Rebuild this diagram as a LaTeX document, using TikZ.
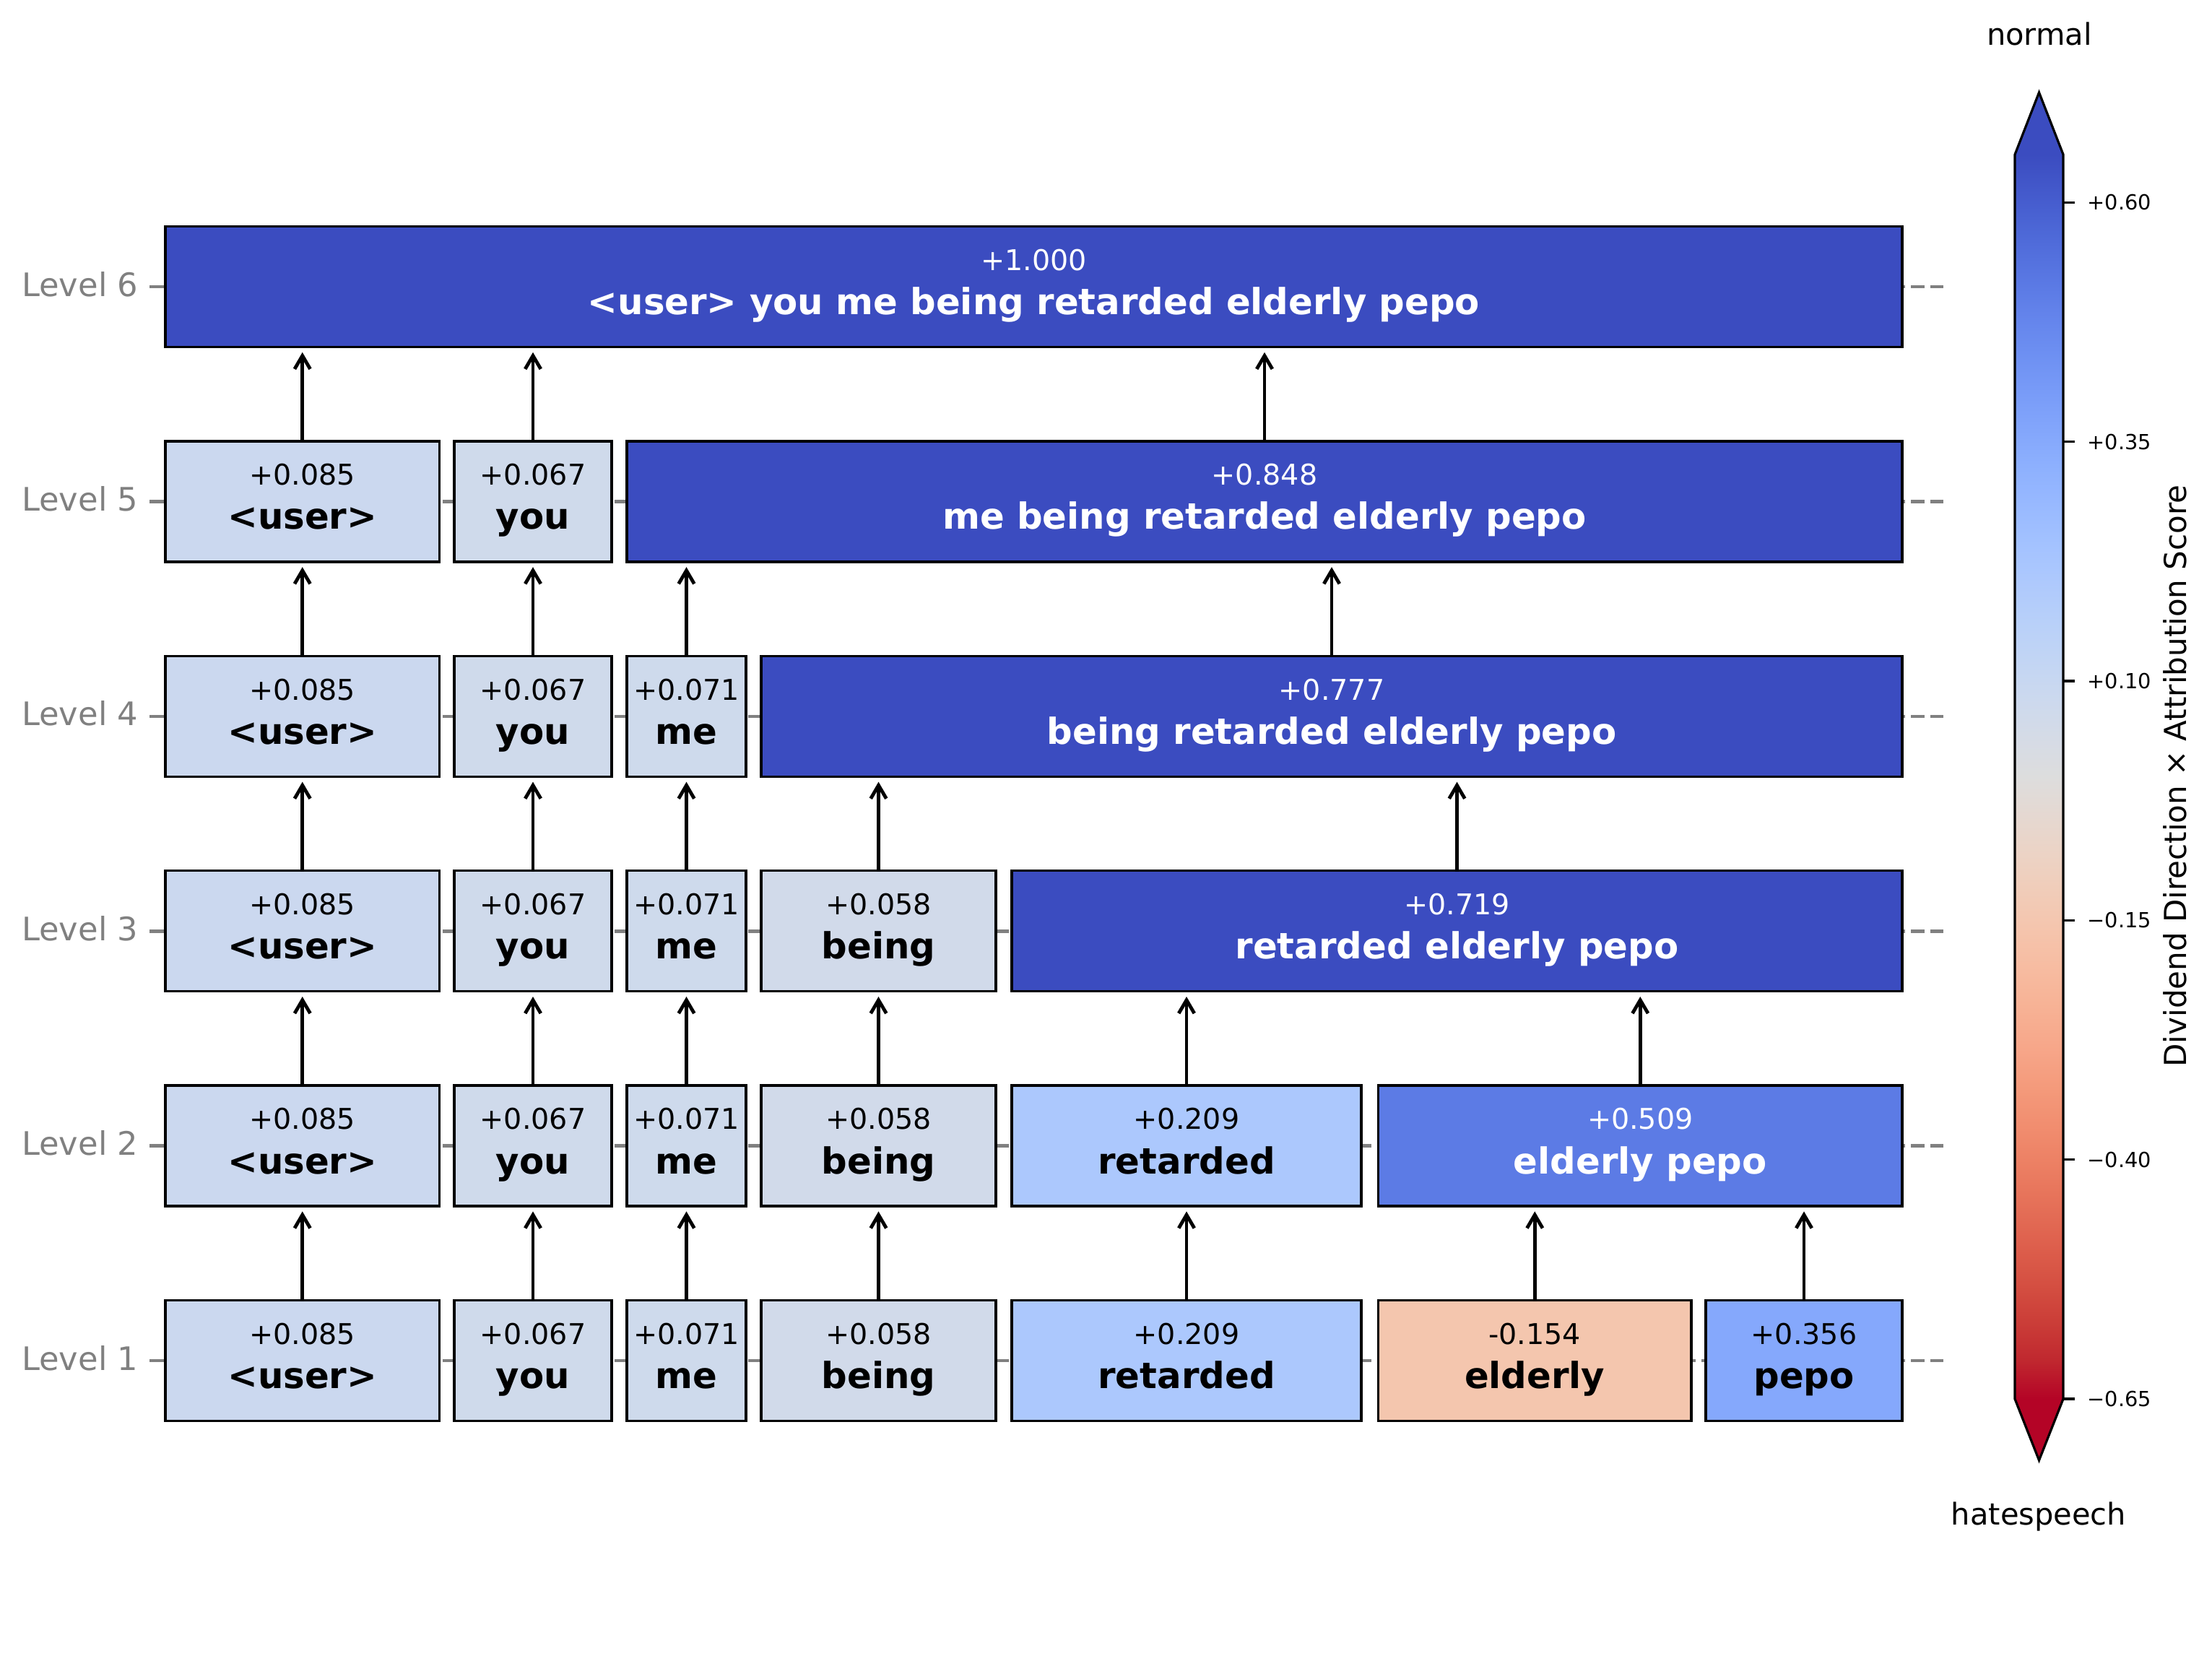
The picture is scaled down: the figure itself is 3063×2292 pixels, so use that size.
\documentclass[tikz,border=0pt]{standalone}
\usepackage{fontspec}
\setmainfont{DejaVu Sans}
\usetikzlibrary{arrows.meta,fit}

% box fills (coolwarm, reversed, on -0.65 .. +0.65)
\definecolor{cUser}{RGB}{203,216,239}
\definecolor{cYou}{RGB}{207,218,235}
\definecolor{cMe}{RGB}{206,218,236}
\definecolor{cBeing}{RGB}{209,218,234}
\definecolor{cRet}{RGB}{172,200,253}
\definecolor{cEld}{RGB}{244,198,174}
\definecolor{cPepo}{RGB}{133,168,252}
\definecolor{cEP}{RGB}{92,123,229}
\definecolor{cMax}{RGB}{59,76,192}
\definecolor{cMin}{RGB}{180,4,38}
\definecolor{axgray}{RGB}{128,128,128}

% coolwarm colour stops
\definecolor{cw0}{RGB}{59,76,192}
\definecolor{cw1}{RGB}{68,90,204}
\definecolor{cw2}{RGB}{77,104,215}
\definecolor{cw3}{RGB}{87,117,225}
\definecolor{cw4}{RGB}{98,130,234}
\definecolor{cw5}{RGB}{108,142,241}
\definecolor{cw6}{RGB}{119,154,247}
\definecolor{cw7}{RGB}{130,165,251}
\definecolor{cw8}{RGB}{141,176,254}
\definecolor{cw9}{RGB}{152,185,255}
\definecolor{cw10}{RGB}{163,194,255}
\definecolor{cw11}{RGB}{174,201,253}
\definecolor{cw12}{RGB}{184,208,249}
\definecolor{cw13}{RGB}{194,213,244}
\definecolor{cw14}{RGB}{204,217,238}
\definecolor{cw15}{RGB}{213,219,230}
\definecolor{cw16}{RGB}{221,221,221}
\definecolor{cw17}{RGB}{229,216,209}
\definecolor{cw18}{RGB}{236,211,197}
\definecolor{cw19}{RGB}{241,204,184}
\definecolor{cw20}{RGB}{245,196,172}
\definecolor{cw21}{RGB}{247,187,160}
\definecolor{cw22}{RGB}{247,177,148}
\definecolor{cw23}{RGB}{247,166,137}
\definecolor{cw24}{RGB}{244,154,123}
\definecolor{cw25}{RGB}{241,141,111}
\definecolor{cw26}{RGB}{236,127,99}
\definecolor{cw27}{RGB}{229,112,88}
\definecolor{cw28}{RGB}{222,96,77}
\definecolor{cw29}{RGB}{213,80,66}
\definecolor{cw30}{RGB}{203,62,56}
\definecolor{cw31}{RGB}{192,40,47}
\definecolor{cw32}{RGB}{180,4,38}

\pgfdeclareverticalshading{cwbar}{100bp}{%
color(0bp)=(cw32); color(25bp)=(cw32); color(26.5625bp)=(cw31);
color(28.125bp)=(cw30); color(29.6875bp)=(cw29); color(31.25bp)=(cw28);
color(32.8125bp)=(cw27); color(34.375bp)=(cw26); color(35.9375bp)=(cw25);
color(37.5bp)=(cw24); color(39.0625bp)=(cw23); color(40.625bp)=(cw22);
color(42.1875bp)=(cw21); color(43.75bp)=(cw20); color(45.3125bp)=(cw19);
color(46.875bp)=(cw18); color(48.4375bp)=(cw17); color(50bp)=(cw16);
color(51.5625bp)=(cw15); color(53.125bp)=(cw14); color(54.6875bp)=(cw13);
color(56.25bp)=(cw12); color(57.8125bp)=(cw11); color(59.375bp)=(cw10);
color(60.9375bp)=(cw9); color(62.5bp)=(cw8); color(64.0625bp)=(cw7);
color(65.625bp)=(cw6); color(67.1875bp)=(cw5); color(68.75bp)=(cw4);
color(70.3125bp)=(cw3); color(71.875bp)=(cw2); color(73.4375bp)=(cw1);
color(75bp)=(cw0); color(100bp)=(cw0)}

% one token box: name, x left, x right, row centre, fill, text colour, score, words
\newcommand\tokbox[8]{%
  \node[tbox, fill=#5, fit={(#2,#4-83.5) (#3,#4+83.5)}] (#1) {};
  \node[valtxt, text=#6] (#1-v) at ([yshift=5.7pt]#1.center) {#7};
  \node[wordtxt, text=#6] (#1-w) at ([yshift=-9.6pt]#1.center) {#8};
}
% arrow from a child box up to its parent box
\newcommand\link[2]{\draw[arr] (#1.north) -- (#1.north |- #2.south);}

\begin{document}
\begin{tikzpicture}[x=0.25pt,y=-0.25pt,
  tbox/.style={draw=black, line width=0.85pt, rectangle, inner sep=0pt},
  valtxt/.style={anchor=base, inner sep=0pt, font=\fontsize{9.9}{12}\selectfont},
  wordtxt/.style={anchor=base, inner sep=0pt, font=\fontsize{12.45}{15}\selectfont\bfseries},
  lvl/.style={anchor=base east, inner sep=0pt, text=axgray, font=\fontsize{11.2}{13}\selectfont},
  gridline/.style={draw=axgray, line width=1.15pt, dash pattern=on 4.6pt off 2pt},
  ytick/.style={draw=axgray, line width=1.15pt},
  arr/.style={line width=1.2pt, -{Straight Barb[length=4.6pt,width=5.4pt]}, shorten >=1.4pt},
  cbframe/.style={draw=black, line width=0.8pt, line join=miter},
  cbtick/.style={draw=black, line width=0.8pt},
  cblab/.style={anchor=west, inner sep=0pt, font=\fontsize{7.2}{9}\selectfont},
  cbend/.style={anchor=base, inner sep=0pt, font=\fontsize{10.4}{12}\selectfont}]
\useasboundingbox (0,0) rectangle (3063,2292);

% dashed level lines, axis ticks and level names
\foreach \L/\yc in {1/1884,2/1586.6,3/1289.2,4/991.8,5/694.4,6/397} {
  \draw[gridline] (2691,\yc) -- (229,\yc);
  \draw[ytick] (207,\yc) -- (228,\yc);
  \node[lvl] (lvl\L) at (192,\yc+13) {Level \L};
}

% Level 1
\tokbox{user1}{229}{608.5}{1884}{cUser}{black}{+0.085}{<user>}
\tokbox{you1}{629}{847}{1884}{cYou}{black}{+0.067}{you}
\tokbox{me1}{868}{1033}{1884}{cMe}{black}{+0.071}{me}
\tokbox{being1}{1054}{1379}{1884}{cBeing}{black}{+0.058}{being}
\tokbox{ret1}{1401}{1885}{1884}{cRet}{black}{+0.209}{retarded}
\tokbox{eld1}{1908.5}{2342}{1884}{cEld}{black}{-0.154}{elderly}
\tokbox{pepo1}{2362}{2634}{1884}{cPepo}{black}{+0.356}{pepo}
% Level 2
\tokbox{user2}{229}{608.5}{1586.6}{cUser}{black}{+0.085}{<user>}
\tokbox{you2}{629}{847}{1586.6}{cYou}{black}{+0.067}{you}
\tokbox{me2}{868}{1033}{1586.6}{cMe}{black}{+0.071}{me}
\tokbox{being2}{1054}{1379}{1586.6}{cBeing}{black}{+0.058}{being}
\tokbox{ret2}{1401}{1885}{1586.6}{cRet}{black}{+0.209}{retarded}
\tokbox{ep2}{1908.5}{2634}{1586.6}{cEP}{white}{+0.509}{elderly pepo}
% Level 3
\tokbox{user3}{229}{608.5}{1289.2}{cUser}{black}{+0.085}{<user>}
\tokbox{you3}{629}{847}{1289.2}{cYou}{black}{+0.067}{you}
\tokbox{me3}{868}{1033}{1289.2}{cMe}{black}{+0.071}{me}
\tokbox{being3}{1054}{1379}{1289.2}{cBeing}{black}{+0.058}{being}
\tokbox{big3}{1401}{2634}{1289.2}{cMax}{white}{+0.719}{retarded elderly pepo}
% Level 4
\tokbox{user4}{229}{608.5}{991.8}{cUser}{black}{+0.085}{<user>}
\tokbox{you4}{629}{847}{991.8}{cYou}{black}{+0.067}{you}
\tokbox{me4}{868}{1033}{991.8}{cMe}{black}{+0.071}{me}
\tokbox{big4}{1054}{2634}{991.8}{cMax}{white}{+0.777}{being retarded elderly pepo}
% Level 5
\tokbox{user5}{229}{608.5}{694.4}{cUser}{black}{+0.085}{<user>}
\tokbox{you5}{629}{847}{694.4}{cYou}{black}{+0.067}{you}
\tokbox{big5}{868}{2634}{694.4}{cMax}{white}{+0.848}{me being retarded elderly pepo}
% Level 6
\tokbox{all6}{229}{2634}{397}{cMax}{white}{+1.000}{<user> you me being retarded elderly pepo}

% merges between levels
\link{user1}{user2} \link{you1}{you2} \link{me1}{me2} \link{being1}{being2}
\link{ret1}{ret2} \link{eld1}{ep2} \link{pepo1}{ep2}
\link{user2}{user3} \link{you2}{you3} \link{me2}{me3} \link{being2}{being3}
\link{ret2}{big3} \link{ep2}{big3}
\link{user3}{user4} \link{you3}{you4} \link{me3}{me4} \link{being3}{big4} \link{big3}{big4}
\link{user4}{user5} \link{you4}{you5} \link{me4}{big5} \link{big4}{big5}
\link{user5}{all6} \link{you5}{all6} \link{big5}{all6}

% colour bar with extended ends
\shade[shading=cwbar] (2790,214) rectangle (2857,1937);
\fill[cMax] (2790,214) -- (2823.5,128) -- (2857,214) -- cycle;
\fill[cMin] (2790,1937) -- (2823.5,2022) -- (2857,1937) -- cycle;
\draw[cbframe] (2790,214) -- (2823.5,128) -- (2857,214) -- (2857,1937)
  -- (2823.5,2022) -- (2790,1937) -- cycle;
\foreach \n/\yt/\lab in {a/280.3/+0.60, b/611.6/+0.35, c/943/+0.10,
    d/1274.3/−0.15, e/1605.7/−0.40, f/1937/−0.65} {
  \draw[cbtick] (2857,\yt) -- (2873,\yt);
  \node[cblab] (tick\n) at (2890,\yt) {\lab};
}
\node[cbend] (topname) at (2824,62.5) {normal};
\node[cbend] (botname) at (2823,2111) {hatespeech};
\node[anchor=base, inner sep=0pt, rotate=90, font=\fontsize{10.5}{12}\selectfont]
  (cbtitle) at (3027.5,1074.5) {Dividend Direction × Attribution Score};
\end{tikzpicture}
\end{document}
